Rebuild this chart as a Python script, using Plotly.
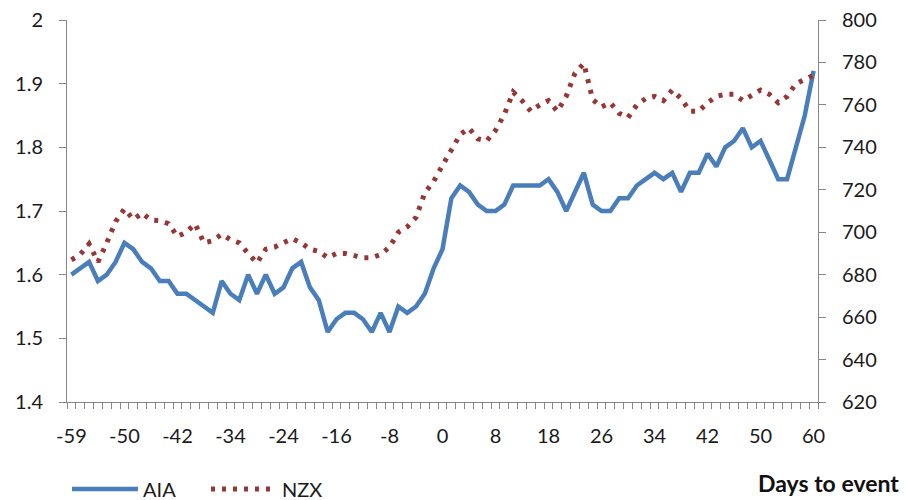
import plotly.graph_objects as go

# Trading days relative to the event (category axis, labels every 6th day)
days = [-59, -57, -56, -55, -52, -51, -50, -49, -48, -45, -44, -43, -42, -41, -38, -37,
        -36, -35, -34, -31, -30, -29, -28, -27, -24, -23, -22, -21, -20, -17, -16, -15,
        -14, -13, -10, -9, -8, -7, -6, -3, -2, -1, 0, 1, 4, 5, 6, 7, 8, 11, 12, 13, 14,
        15, 18, 19, 20, 21, 22, 25, 26, 27, 28, 29, 32, 33, 34, 35, 36, 39, 40, 41, 42,
        43, 46, 47, 48, 49, 50, 53, 54, 55, 56, 57, 60]

aia = [1.60, 1.61, 1.62, 1.59, 1.60, 1.62, 1.65, 1.64, 1.62, 1.61, 1.59, 1.59, 1.57,
       1.57, 1.56, 1.55, 1.54, 1.59, 1.57, 1.56, 1.60, 1.57, 1.60, 1.57, 1.58, 1.61,
       1.62, 1.58, 1.56, 1.51, 1.53, 1.54, 1.54, 1.53, 1.51, 1.54, 1.51, 1.55, 1.54,
       1.55, 1.57, 1.61, 1.64, 1.72, 1.74, 1.73, 1.71, 1.70, 1.70, 1.71, 1.74, 1.74,
       1.74, 1.74, 1.75, 1.73, 1.70, 1.73, 1.76, 1.71, 1.70, 1.70, 1.72, 1.72, 1.74,
       1.75, 1.76, 1.75, 1.76, 1.73, 1.76, 1.76, 1.79, 1.77, 1.80, 1.81, 1.83, 1.80,
       1.81, 1.78, 1.75, 1.75, 1.80, 1.85, 1.92]

nzx = [687, 689.5, 694.5, 686, 695, 705, 711, 706, 709, 705.7, 705.5, 704, 698, 700,
       704, 695, 696, 699, 696.5, 695, 690, 685.5, 692, 693, 695, 697, 695, 692, 691,
       688, 690, 690, 689, 688, 688, 689.5, 693, 700, 702.5, 707, 718.5, 724, 731.5,
       739, 746, 749, 744, 743, 748, 755.5, 766, 762, 757, 760, 762, 757, 764, 775,
       779.5, 762.5, 759, 761, 756, 754, 760, 763, 764, 762, 767, 763, 757, 757, 761,
       764, 765, 765, 762, 764.5, 767, 765, 761, 764, 770, 772, 774]

label_step = 6
pos = list(range(len(days)))
tick_pos = pos[::label_step]
tick_text = [str(d) for d in days[::label_step]]

FONT = "Lato"
AXIS_COL = "#868686"

fig = go.Figure()
fig.add_trace(go.Scatter(x=pos, y=aia, name="AIA", mode="lines",
                         line=dict(color="#4A7EBB", width=4.5)))
fig.add_trace(go.Scatter(x=pos, y=nzx, name="NZX", mode="lines", yaxis="y2",
                         line=dict(color="#953735", width=5, dash="4px,7px")))

fig.update_layout(
    width=906, height=500,
    margin=dict(l=67, r=88, t=20, b=98, autoexpand=False),
    paper_bgcolor="white", plot_bgcolor="white",
    font=dict(family=FONT, size=20, color="#1a1a1a"),
    showlegend=True,
    legend=dict(orientation="h", x=0.0, xanchor="left", y=-0.228, yanchor="middle",
                font=dict(size=20), itemwidth=66, entrywidth=58, entrywidthmode="pixels",
                bgcolor="rgba(0,0,0,0)"),
    xaxis=dict(range=[-0.5, len(days) - 0.5], tickmode="array", tickvals=tick_pos,
               ticktext=tick_text, ticks="outside", ticklen=0, showgrid=False,
               zeroline=False, showline=True, linecolor=AXIS_COL, linewidth=1,
               ticklabelstandoff=16, automargin=False,
               minor=dict(tick0=-0.5, dtick=1, ticks="outside", ticklen=6,
                          tickcolor=AXIS_COL, showgrid=False)),
    yaxis=dict(range=[1.4, 2.0], dtick=0.1, tick0=1.4, ticks="outside", ticklen=7,
               tickcolor=AXIS_COL, showgrid=False, zeroline=False, showline=True,
               linecolor=AXIS_COL, linewidth=1, ticklabelstandoff=12, automargin=False),
    yaxis2=dict(range=[620, 800], dtick=20, tick0=620, overlaying="y", side="right",
                ticks="outside", ticklen=7, tickcolor=AXIS_COL, showgrid=False,
                zeroline=False, showline=True, linecolor=AXIS_COL, linewidth=1,
                ticklabelstandoff=12, automargin=False),
    annotations=[dict(text="<b>Days to event</b>", xref="paper", yref="paper",
                      x=1.11, y=-0.213, xanchor="right", yanchor="middle",
                      showarrow=False, font=dict(family=FONT, size=23, color="#111111"))],
)

fig.write_html("out.html", config={"displayModeBar": False},
               post_script="document.body.style.margin='0';document.body.style.padding='0';")
